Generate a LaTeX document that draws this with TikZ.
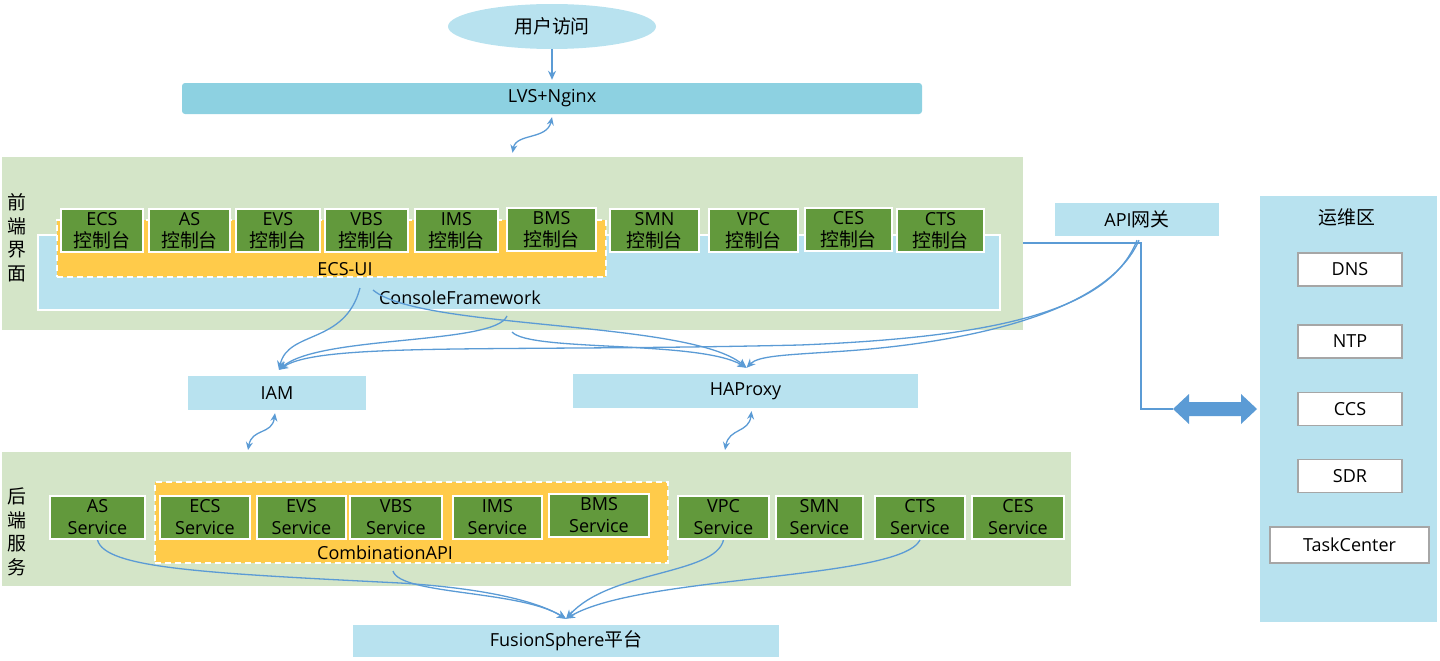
\documentclass[tikz,border=0pt]{standalone}
\usepackage{fontspec}
\setmainfont{Open Sans}
\newfontfamily\cjk[Scale=1.05]{Noto Sans CJK SC}
\usetikzlibrary{arrows.meta,shapes.geometric}
\definecolor{pgreen}{HTML}{D4E5C8}
\definecolor{ggreen}{HTML}{62993C}
\definecolor{lblue}{HTML}{B8E2EF}
\definecolor{dblue}{HTML}{8DD1E1}
\definecolor{ylw}{HTML}{FFCB4A}
\definecolor{conn}{HTML}{5B9BD5}
\definecolor{gry}{HTML}{A6A6A6}
\begin{document}
\begin{tikzpicture}[x=1pt,y=-1pt,
  every node/.style={font=\fontsize{18}{22}\selectfont, text=black},
  panel/.style={fill=pgreen, inner sep=0},
  lbbox/.style={fill=lblue, inner sep=0},
  gbox/.style={fill=ggreen, draw=white, line width=2pt, align=center, inner sep=0, minimum height=43pt},
  ybox/.style={fill=ylw, draw=white, line width=2pt, dash pattern=on 6pt off 4pt, inner sep=0},
  wbox/.style={fill=white, draw=gry, line width=1.2pt, inner sep=0},
  vlabel/.style={align=center, font=\cjk\fontsize{18}{23.5}\selectfont, inner sep=0},
  lnk/.style={draw=conn, line width=1.3pt},
  onehead/.style={-{Stealth[length=9pt,width=8pt]}},
  twohead/.style={{Stealth[length=8pt,width=7pt]}-{Stealth[length=8pt,width=7pt]}},
]
\useasboundingbox (0,0) rectangle (1440,661);

% top
\node[ellipse, fill=lblue, minimum width=208pt, minimum height=45pt, inner sep=0] (user) at (552,26.5) {\cjk 用户访问};
\node[fill=dblue, rounded corners=3pt, minimum width=740pt, minimum height=31pt, inner sep=0] (LVS) at (552,98.5) {LVS+Nginx};

% front panel
\node[panel, minimum width=1021pt, minimum height=173pt] (front) at (512.5,243.5) {};
\node[vlabel] (flabel) at (17,238) {前\\端\\界\\面};
\node[lbbox, draw=white, line width=2pt, minimum width=962pt, minimum height=75pt] (CF) at (519,272.5) {};
\node[ybox, minimum width=549pt, minimum height=57pt] (ECSUI) at (331.5,248.5) {};
\node[inner sep=0] (CFt) at (460,298) {ConsoleFramework};
\node[inner sep=0] (ECSUIt) at (345,269) {ECS-UI};

\node[gbox, minimum width=82pt] (cECS) at (102,230.5) {ECS\\{\cjk 控制台}};
\node[gbox, minimum width=81pt] (cAS) at (189.5,230.5) {AS\\{\cjk 控制台}};
\node[gbox, minimum width=84pt] (cEVS) at (278,230.5) {EVS\\{\cjk 控制台}};
\node[gbox, minimum width=83pt] (cVBS) at (366.5,230.5) {VBS\\{\cjk 控制台}};
\node[gbox, minimum width=83pt] (cIMS) at (456.5,230.5) {IMS\\{\cjk 控制台}};
\node[gbox, minimum width=89pt] (cBMS) at (551.5,229.5) {BMS\\{\cjk 控制台}};
\node[gbox, minimum width=89pt] (cSMN) at (654.5,230.5) {SMN\\{\cjk 控制台}};
\node[gbox, minimum width=89pt] (cVPC) at (753.5,230.5) {VPC\\{\cjk 控制台}};
\node[gbox, minimum width=87pt] (cCES) at (848.5,229.5) {CES\\{\cjk 控制台}};
\node[gbox, minimum width=87pt] (cCTS) at (940.5,230.5) {CTS\\{\cjk 控制台}};

% middle
\node[lbbox, minimum width=164pt, minimum height=33pt] (API) at (1137,219.5) {API{\cjk 网关}};
\node[lbbox, minimum width=178pt, minimum height=34pt] (IAM) at (277,393) {IAM};
\node[lbbox, minimum width=345pt, minimum height=34pt] (HA) at (745.5,391) {HAProxy};

% back panel
\node[panel, minimum width=1069pt, minimum height=134pt] (back) at (536.5,519) {};
\node[vlabel] (blabel) at (17,532) {后\\端\\服\\务};
\node[ybox, minimum width=513pt, minimum height=81pt] (cmb) at (411.5,522.5) {};
\node[inner sep=0] (cmbt) at (385,553) {CombinationAPI};

\node[gbox, minimum width=95pt] (sAS) at (97.5,517.5) {AS\\Service};
\node[gbox, minimum width=90pt] (sECS) at (205,517.5) {ECS\\Service};
\node[gbox, minimum width=89pt] (sEVS) at (301.5,517.5) {EVS\\Service};
\node[gbox, minimum width=92pt] (sVBS) at (396,517.5) {VBS\\Service};
\node[gbox, minimum width=89pt] (sIMS) at (497.5,517.5) {IMS\\Service};
\node[gbox, minimum width=100pt] (sBMS) at (599,515.5) {BMS\\Service};
\node[gbox, minimum width=91pt] (sVPC) at (723.5,517.5) {VPC\\Service};
\node[gbox, minimum width=87pt] (sSMN) at (819.5,517.5) {SMN\\Service};
\node[gbox, minimum width=90pt] (sCTS) at (920,517.5) {CTS\\Service};
\node[gbox, minimum width=92pt] (sCES) at (1018,517.5) {CES\\Service};

\node[lbbox, minimum width=426pt, minimum height=32pt] (FS) at (566,641) {FusionSphere{\cjk 平台}};

% ops panel
\node[lbbox, minimum width=177pt, minimum height=426pt] (ops) at (1348.5,409) {};
\node[inner sep=0] (opst) at (1347,217) {\cjk 运维区};
\node[wbox, minimum width=104pt, minimum height=33pt] (DNS) at (1350,269.5) {DNS};
\node[wbox, minimum width=104pt, minimum height=33pt] (NTP) at (1350,341.5) {NTP};
\node[wbox, minimum width=104pt, minimum height=33pt] (CCS) at (1350,409) {CCS};
\node[wbox, minimum width=104pt, minimum height=33pt] (SDR) at (1350,476) {SDR};
\node[wbox, minimum width=159pt, minimum height=36pt] (TC) at (1349.5,545) {TaskCenter};

% coordinates
\coordinate (cfa) at (360,288);
\coordinate (cfb) at (373,290);
\coordinate (cfc) at (507,316);
\coordinate (cfd) at (512,332);
\coordinate (apij) at (1141,243);
\coordinate (apiv) at (1141,409);
\coordinate (dblL) at (1173,409);
\coordinate (cmbx) at (393,571);
\coordinate (bIAM) at (248,450);
\coordinate (bHA) at (725,450);

% connectors
\draw[lnk,onehead] (user.south) -- ([yshift=3pt]LVS.north);
\draw[lnk,twohead] ([yshift=4pt]front.north) .. controls (516,133) and (547,140) .. ([yshift=-3pt]LVS.south);
\draw[lnk,twohead] (bIAM) .. controls (252,428) and (272,435) .. ([xshift=-2pt,yshift=-3pt]IAM.south);
\draw[lnk,twohead] (bHA) .. controls (729,428) and (749,433) .. ([xshift=6pt,yshift=-3pt]HA.south);

\draw[lnk,onehead] (cfa) .. controls (345,345) and (288,330) .. ([xshift=2pt,yshift=6pt]IAM.north);
\draw[lnk,onehead] (cfb) .. controls (420,330) and (690,320) .. ([xshift=1pt,yshift=6pt]HA.north);
\draw[lnk,onehead] (cfc) .. controls (495,345) and (320,335) .. ([xshift=2pt,yshift=6pt]IAM.north);
\draw[lnk,onehead] (cfd) .. controls (530,352) and (700,340) .. ([xshift=1pt,yshift=6pt]HA.north);
\draw[lnk,onehead] ([yshift=-4pt]API.south) .. controls (1110,310) and (1000,337) .. (800,345) .. controls (500,352) and (320,342) .. ([xshift=2pt,yshift=6pt]IAM.north);
\draw[lnk,onehead] ([xshift=2pt,yshift=-4pt]API.south) .. controls (1100,330) and (900,348) .. (830,352) .. controls (785,355) and (758,356) .. ([xshift=1pt,yshift=6pt]HA.north);

\draw[lnk] (front.east |- apij) -- (apij) -- (apiv) -- (dblL);
\fill[conn] (dblL) -- (1189,394) -- (1189,402) -- (1241,402) -- (1241,394) -- (1257,409) -- (1241,424) -- (1241,416) -- (1189,416) -- (1189,424) -- cycle;

\draw[lnk,onehead] (sAS.south) .. controls (105,568) and (200,573) .. (400,583) .. controls (480,588) and (535,600) .. ([yshift=6pt]FS.north);
\draw[lnk,onehead] (cmbx) .. controls (400,595) and (520,590) .. ([yshift=6pt]FS.north);
\draw[lnk,onehead] (sVPC.south) .. controls (715,575) and (610,570) .. ([yshift=6pt]FS.north);
\draw[lnk,onehead] (sCTS.south) .. controls (900,580) and (640,575) .. ([yshift=6pt]FS.north);
\end{tikzpicture}
\end{document}
